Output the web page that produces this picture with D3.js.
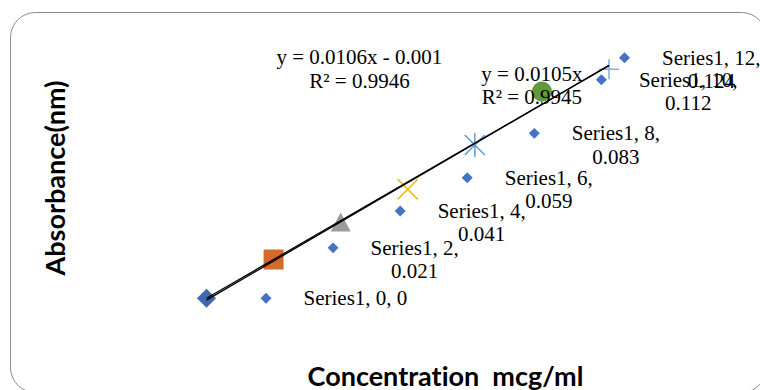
<!DOCTYPE html>
<html>
<head>
<meta charset="utf-8">
<script src="https://cdn.jsdelivr.net/npm/d3@7"></script>
<style>
  html, body { margin: 0; padding: 0; background: #fff; }
  svg { display: block; }
  .axis-title { font-variant-ligatures: none; font-feature-settings: "liga" 0; }
</style>
</head>
<body>
<div id="chart"></div>
<script>
// calibration data: concentration (mcg/ml) vs absorbance
const concentration = [0, 2, 4, 6, 8, 10, 12];
const absorbance = [0, 0.021, 0.041, 0.059, 0.083, 0.112, 0.124];

// excel default marker sequence, one series per point
const markerShapes = ['diamond', 'square', 'triangle', 'x', 'star', 'circle', 'plus'];
const markerColors = ['#3E68B4', '#D56B2A', '#9B9B9B', '#F2B400', '#5B9BD5', '#62993E', '#8FAADC'];

// trendlines (linear, and linear forced through origin)
const trendSlopes = [0.0106, 0.0105];
const trendIntercepts = [-0.001, 0];
const trendR2 = [0.9946, 0.9945];
const trendEquations = ['y = 0.0106x - 0.001', 'y = 0.0105x'];

const width = 760;
const height = 390;
const plot = { left: 206.5, right: 609, top: 69.3, bottom: 298.3 };

const svg = d3.select('#chart')
  .append('svg')
  .attr('width', width)
  .attr('height', height);

// chart border (rounded, runs off right/bottom edges)
svg.append('rect')
  .attr('x', 10.5)
  .attr('y', 12.5)
  .attr('width', 756)
  .attr('height', 380)
  .attr('rx', 25)
  .attr('fill', '#fff')
  .attr('stroke', '#8C8C8C')
  .attr('stroke-width', 1);

const x = d3.scaleLinear().domain([0, 12]).range([plot.left, plot.right]);
const y = d3.scaleLinear().domain([0, 0.124]).range([plot.bottom, plot.top]);

const g = svg.append('g');

// markers
function drawMarker(sel, shape, color) {
  const r = 10;
  if (shape === 'diamond') {
    sel.append('path').attr('d', d3.symbol(d3.symbolSquare, 182)())
      .attr('transform', 'rotate(45)').attr('fill', color);
  } else if (shape === 'square') {
    sel.append('rect').attr('x', -r).attr('y', -r).attr('width', 2 * r).attr('height', 2 * r)
      .attr('fill', color);
  } else if (shape === 'triangle') {
    sel.append('path').attr('d', `M0,${-r}L${r},${r - 1}L${-r},${r - 1}Z`).attr('fill', color);
  } else if (shape === 'x') {
    sel.append('path').attr('d', `M${-r},${-r}L${r},${r}M${r},${-r}L${-r},${r}`)
      .attr('stroke', color).attr('stroke-width', 1.5).attr('fill', 'none');
  } else if (shape === 'star') {
    sel.append('path').attr('d', `M${-r},${-r}L${r},${r}M${r},${-r}L${-r},${r}M0,${-r - 2}L0,${r + 2}`)
      .attr('stroke', color).attr('stroke-width', 1.5).attr('fill', 'none');
  } else if (shape === 'circle') {
    sel.append('circle').attr('r', r).attr('fill', color);
  } else if (shape === 'plus') {
    sel.append('path').attr('d', `M${-r},0L${r},0M0,${-r}L0,${r}`)
      .attr('stroke', color).attr('stroke-width', 1.5).attr('fill', 'none');
  }
}

g.selectAll('.marker')
  .data(concentration)
  .enter()
  .append('g')
  .attr('class', 'marker')
  .attr('transform', (d, i) => `translate(${x(d)},${y(absorbance[i])})`)
  .each(function (d, i) {
    drawMarker(d3.select(this), markerShapes[i], markerColors[i]);
  });

// trendlines over the data range
const trendLine = d3.line()
  .x(d => x(d[0]))
  .y(d => y(d[1]));

trendSlopes.forEach((m, k) => {
  const b = trendIntercepts[k];
  const ends = d3.extent(concentration).map(c => [c, m * c + b]);
  g.append('path')
    .datum(ends)
    .attr('d', trendLine)
    .attr('fill', 'none')
    .attr('stroke', '#000')
    .attr('stroke-width', 1.3);
});

// data labels with legend key
const serif = '"Liberation Serif", "Times New Roman", serif';
const lineH = 23.3;
const labelNudge = [0, 0, 0, 0, 0, 0, -44];

const labels = svg.append('g')
  .attr('font-family', serif)
  .attr('font-size', 21)
  .attr('fill', '#000');

concentration.forEach((c, i) => {
  const a = absorbance[i];
  const px = x(c);
  const py = y(a);
  const lines = i === 0 ? [`Series1, ${c}, ${a}`] : [`Series1, ${c},`, `${a}`];
  const keyX = px + 59.5 + labelNudge[i];
  const keyY = py - (lines.length - 1) * lineH / 2;

  labels.append('path')
    .attr('d', d3.symbol(d3.symbolSquare, 60)())
    .attr('transform', `translate(${keyX},${keyY}) rotate(45)`)
    .attr('fill', '#4472C4');

  const texts = lines.map((t, j) => labels.append('text')
    .attr('y', keyY + j * lineH + 7)
    .text(t));
  const blockW = d3.max(texts, t => t.node().getComputedTextLength());
  const left = keyX + 37.5;
  texts.forEach(t => t.attr('x', left + blockW / 2).attr('text-anchor', 'middle'));
});

// trendline equation labels, anchored in data space
const trendLabelX = [4.56, 9.7];
const trendLabelY = [0.1266, 0.1179];

trendEquations.forEach((eq, k) => {
  const t = labels.append('text')
    .attr('text-anchor', 'middle')
    .attr('x', x(trendLabelX[k]))
    .attr('y', y(trendLabelY[k]));
  t.append('tspan').attr('x', x(trendLabelX[k])).text(eq);
  t.append('tspan').attr('x', x(trendLabelX[k])).attr('dy', lineH).text(`R² = ${trendR2[k]}`);
});

// axis titles
const sans = 'Lato, "Open Sans", sans-serif';

svg.append('text')
  .attr('class', 'axis-title')
  .attr('x', 445.5)
  .attr('y', 386)
  .attr('text-anchor', 'middle')
  .attr('font-family', sans)
  .attr('font-weight', 'bold')
  .attr('font-size', 27)
  .style('white-space', 'pre')
  .text('Concentration  mcg/ml');

svg.append('text')
  .attr('class', 'axis-title')
  .attr('transform', 'translate(65,178) rotate(-90)')
  .attr('text-anchor', 'middle')
  .attr('font-family', sans)
  .attr('font-weight', 'bold')
  .attr('font-size', 27)
  .text('Absorbance(nm)');
</script>
</body>
</html>
